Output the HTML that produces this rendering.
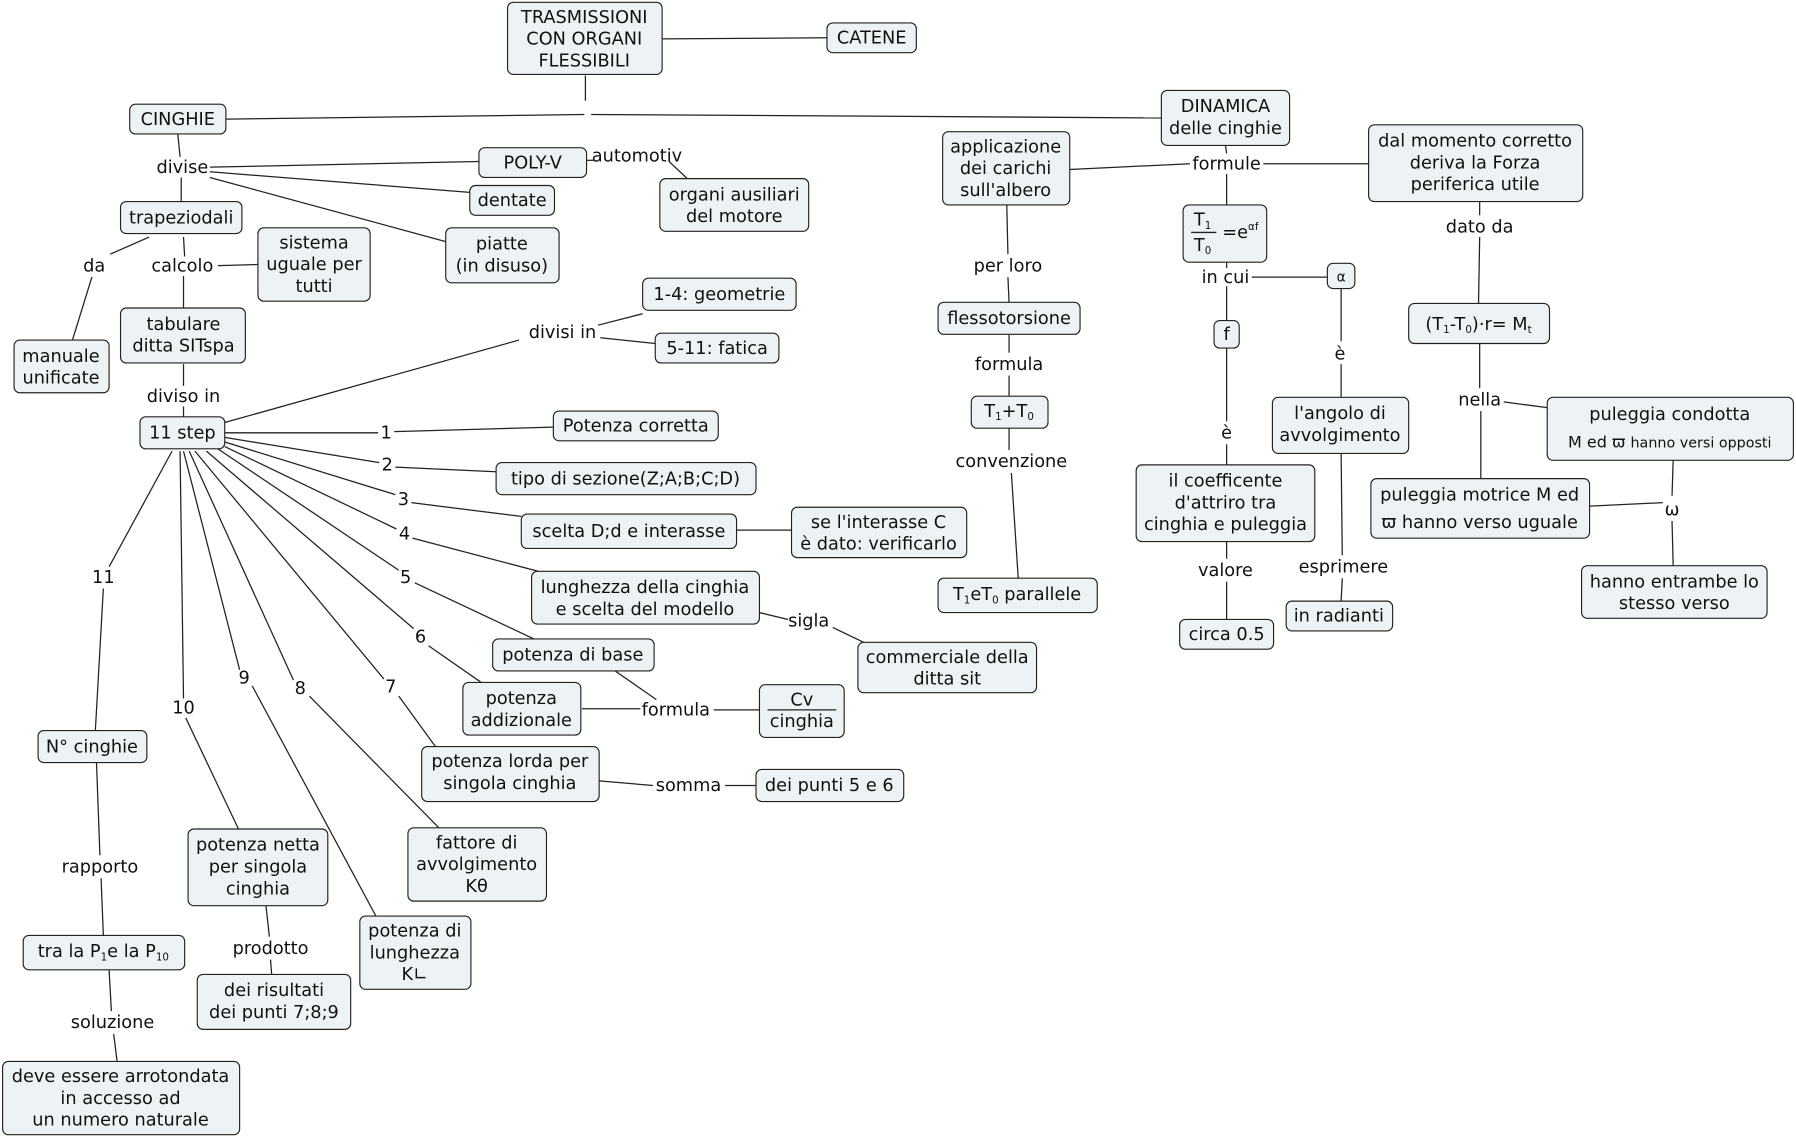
<!DOCTYPE html>
<html><head><meta charset="utf-8"><style>
html,body{margin:0;padding:0;background:#fff;}
svg{display:block}
text{font-family:"DejaVu Sans","Liberation Sans",sans-serif;font-size:15.5px;fill:#111;text-anchor:middle;}
rect{fill:#edf3f4;stroke:#222;stroke-width:1;}
line{stroke:#222;stroke-width:1.1;}
.s{font-size:9px}
</style></head><body>
<svg width="1796" height="1137" viewBox="0 0 1568 993" xmlns="http://www.w3.org/2000/svg">
<g>
<line x1="511" y1="66" x2="511" y2="88"/><line x1="578" y1="34" x2="722" y2="33"/>
<line x1="197" y1="104" x2="510" y2="100"/><line x1="516" y1="100" x2="1014" y2="103"/>
<line x1="155" y1="117" x2="157" y2="137"/><line x1="158" y1="155" x2="158" y2="176"/>
<line x1="183" y1="146" x2="418" y2="141"/><line x1="183" y1="150" x2="410" y2="168"/><line x1="183" y1="155" x2="389" y2="211"/>
<line x1="512" y1="140" x2="518" y2="140"/><line x1="584" y1="141" x2="600" y2="156"/>
<line x1="130" y1="207" x2="96" y2="222"/><line x1="80" y1="242" x2="63" y2="297"/>
<line x1="160" y1="207" x2="161" y2="224"/><line x1="190" y1="232" x2="225" y2="231"/><line x1="160" y1="241" x2="160" y2="269"/>
<line x1="160" y1="318" x2="160" y2="337"/><line x1="160" y1="355" x2="160" y2="364"/>
<line x1="196" y1="369" x2="453" y2="297"/><line x1="522" y1="284" x2="561" y2="274"/><line x1="524" y1="295" x2="572" y2="300"/>
<line x1="196" y1="378" x2="330" y2="378"/><line x1="344" y1="377" x2="483" y2="373"/>
<line x1="196" y1="382" x2="331" y2="404"/><line x1="345" y1="408" x2="433" y2="412"/>
<line x1="196" y1="386" x2="345" y2="432"/><line x1="359" y1="439" x2="455" y2="451"/>
<line x1="196" y1="390" x2="346" y2="462"/><line x1="360" y1="470" x2="470" y2="499"/>
<line x1="190" y1="392" x2="348" y2="498"/><line x1="362" y1="509" x2="466" y2="558"/>
<line x1="180" y1="394" x2="361" y2="549"/><line x1="374" y1="564" x2="420" y2="596"/>
<line x1="170" y1="394" x2="335" y2="593"/><line x1="348" y1="608" x2="380" y2="652"/>
<line x1="165" y1="394" x2="256" y2="594"/><line x1="270" y1="608" x2="383" y2="723"/>
<line x1="160" y1="394" x2="209" y2="585"/><line x1="220" y1="599" x2="328" y2="800"/>
<line x1="157" y1="394" x2="160" y2="610"/><line x1="162" y1="627" x2="208" y2="724"/>
<line x1="150" y1="394" x2="95" y2="495"/><line x1="90" y1="514" x2="83" y2="638"/>
<line x1="84" y1="666" x2="87" y2="747"/><line x1="88" y1="767" x2="90" y2="817"/>
<line x1="232" y1="791" x2="235" y2="818"/><line x1="236" y1="838" x2="237" y2="851"/>
<line x1="95" y1="847" x2="97" y2="883"/><line x1="99" y1="903" x2="102" y2="927"/>
<line x1="643" y1="463" x2="691" y2="463"/>
<line x1="663" y1="535" x2="688" y2="541"/><line x1="727" y1="548" x2="754" y2="561"/>
<line x1="537" y1="586" x2="573" y2="611"/><line x1="508" y1="619" x2="559" y2="619"/><line x1="623" y1="620" x2="663" y2="620"/>
<line x1="523" y1="682" x2="570" y2="686"/><line x1="633" y1="686" x2="660" y2="686"/>
<line x1="1070" y1="127" x2="1071" y2="134"/><line x1="934" y1="148" x2="1039" y2="143"/><line x1="1103" y1="143" x2="1195" y2="143"/><line x1="1071" y1="152" x2="1071" y2="179"/>
<line x1="879" y1="179" x2="880" y2="222"/><line x1="880" y1="242" x2="881" y2="264"/><line x1="881" y1="292" x2="881" y2="308"/><line x1="881" y1="328" x2="881" y2="346"/><line x1="881" y1="374" x2="881" y2="393"/><line x1="883" y1="413" x2="889" y2="505"/>
<line x1="1071" y1="229" x2="1071" y2="234"/><line x1="1093" y1="242" x2="1159" y2="242"/><line x1="1171" y1="252" x2="1171" y2="298"/><line x1="1171" y1="318" x2="1171" y2="347"/><line x1="1171" y1="396" x2="1172" y2="485"/><line x1="1172" y1="505" x2="1171" y2="525"/>
<line x1="1071" y1="250" x2="1071" y2="280"/><line x1="1071" y1="304" x2="1071" y2="368"/><line x1="1071" y1="388" x2="1071" y2="406"/><line x1="1071" y1="473" x2="1071" y2="488"/><line x1="1071" y1="508" x2="1071" y2="541"/>
<line x1="1292" y1="176" x2="1292" y2="188"/><line x1="1292" y1="207" x2="1291" y2="265"/><line x1="1292" y1="300" x2="1292" y2="339"/><line x1="1293" y1="359" x2="1293" y2="418"/><line x1="1313" y1="351" x2="1351" y2="356"/>
<line x1="1461" y1="402" x2="1460" y2="433"/><line x1="1388" y1="442" x2="1452" y2="439"/><line x1="1460" y1="455" x2="1461" y2="494"/>
</g>
<g>
<rect x="443" y="2" width="135" height="63" rx="5"/>
<text x="510" y="20">TRASMISSIONI</text><text x="510" y="39">CON ORGANI</text><text x="510" y="58">FLESSIBILI</text>
<rect x="722" y="20" width="78" height="26" rx="5"/><text x="761" y="38">CATENE</text>
<rect x="113" y="91" width="84" height="26" rx="5"/><text x="155" y="109">CINGHIE</text>
<rect x="1014" y="79" width="112" height="48" rx="5"/><text x="1070" y="98">DINAMICA</text><text x="1070" y="117">delle cinghie</text>
<rect x="418" y="129" width="94" height="26" rx="5"/><text x="465" y="147">POLY-V</text>
<rect x="410" y="162" width="74" height="26" rx="5"/><text x="447" y="180">dentate</text>
<rect x="576" y="156" width="130" height="46" rx="5"/><text x="641" y="175">organi ausiliari</text><text x="641" y="194">del motore</text>
<rect x="389" y="199" width="99" height="48" rx="5"/><text x="438" y="218">piatte</text><text x="438" y="237">(in disuso)</text>
<rect x="105" y="176" width="106" height="28" rx="5"/><text x="158" y="195">trapeziodali</text>
<rect x="225" y="199" width="98" height="64" rx="5"/><text x="274" y="217">sistema</text><text x="274" y="236">uguale per</text><text x="274" y="255">tutti</text>
<rect x="12" y="297" width="83" height="46" rx="5"/><text x="53" y="316">manuale</text><text x="53" y="335">unificate</text>
<rect x="105" y="269" width="109" height="48" rx="5"/><text x="160" y="288">tabulare</text><text x="160" y="307">ditta SITspa</text>
<rect x="561" y="243" width="134" height="28" rx="5"/><text x="628" y="262">1-4: geometrie</text>
<rect x="572" y="291" width="108" height="26" rx="5"/><text x="626" y="309">5-11: fatica</text>
<rect x="122" y="364" width="74" height="28" rx="5"/><text x="159" y="383">11 step</text>
<rect x="483" y="359" width="144" height="26" rx="5"/><text x="555" y="377">Potenza corretta</text>
<rect x="433" y="404" width="227" height="28" rx="5"/><text x="546" y="423">tipo di sezione(Z;A;B;C;D)</text>
<rect x="455" y="449" width="188" height="30" rx="5"/><text x="549" y="469">scelta D;d e interasse</text>
<rect x="691" y="443" width="153" height="44" rx="5"/><text x="767" y="461">se l'interasse C</text><text x="767" y="480">è dato: verificarlo</text>
<rect x="464" y="499" width="199" height="46" rx="5"/><text x="563" y="518">lunghezza della cinghia</text><text x="563" y="537">e scelta del modello</text>
<rect x="430" y="558" width="141" height="28" rx="5"/><text x="500" y="577">potenza di base</text>
<rect x="404" y="596" width="103" height="46" rx="5"/><text x="455" y="615">potenza</text><text x="455" y="634">addizionale</text>
<rect x="663" y="598" width="74" height="46" rx="5"/><text x="700" y="616">Cv</text><line x1="670" y1="620" x2="730" y2="620"/><text x="700" y="635">cinghia</text>
<rect x="749" y="561" width="156" height="44" rx="5"/><text x="827" y="579">commerciale della</text><text x="827" y="598">ditta sit</text>
<rect x="368" y="652" width="155" height="48" rx="5"/><text x="445" y="670">potenza lorda per</text><text x="445" y="689">singola cinghia</text>
<rect x="660" y="672" width="129" height="28" rx="5"/><text x="724" y="691">dei punti 5 e 6</text>
<rect x="33" y="638" width="95" height="28" rx="5"/><text x="80" y="657">N° cinghie</text>
<rect x="164" y="724" width="122" height="67" rx="5"/><text x="225" y="743">potenza netta</text><text x="225" y="762">per singola</text><text x="225" y="781">cinghia</text>
<rect x="356" y="723" width="121" height="64" rx="5"/><text x="416" y="741">fattore di</text><text x="416" y="760">avvolgimento</text><text x="416" y="779">Kθ</text>
<rect x="314" y="800" width="97" height="64" rx="5"/><text x="362" y="818">potenza di</text><text x="362" y="837">lunghezza</text><text x="362" y="856">K∟</text>
<rect x="20" y="817" width="141" height="30" rx="5"/><text x="90" y="836">tra la P<tspan class="s" dy="3">1</tspan><tspan dy="-3">e la P</tspan><tspan class="s" dy="3">10</tspan></text>
<rect x="172" y="851" width="134" height="48" rx="5"/><text x="239" y="870">dei risultati</text><text x="239" y="889">dei punti 7;8;9</text>
<rect x="2" y="927" width="207" height="64" rx="5"/><text x="105" y="945">deve essere arrotondata</text><text x="105" y="964">in accesso ad</text><text x="105" y="983">un numero naturale</text>
<rect x="823" y="115" width="111" height="64" rx="5"/><text x="878" y="133">applicazione</text><text x="878" y="152">dei carichi</text><text x="878" y="171">sull'albero</text>
<rect x="1195" y="109" width="187" height="67" rx="5"/><text x="1288" y="128">dal momento corretto</text><text x="1288" y="147">deriva la Forza</text><text x="1288" y="166">periferica utile</text>
<rect x="1033" y="179" width="73" height="50" rx="5"/><text x="1050" y="197">T<tspan class="s" dy="3">1</tspan></text><line x1="1040" y1="203" x2="1062" y2="203"/><text x="1050" y="219">T<tspan class="s" dy="3">0</tspan></text><text x="1083" y="208">=e<tspan class="s" dy="-7">αf</tspan></text>
<rect x="1159" y="230" width="24" height="22" rx="5"/><text x="1171" y="246" style="font-size:12px">α</text>
<rect x="1060" y="280" width="22" height="24" rx="5"/><text x="1071" y="297">f</text>
<rect x="819" y="264" width="124" height="28" rx="5"/><text x="881" y="283">flessotorsione</text>
<rect x="848" y="346" width="67" height="28" rx="5"/><text x="881" y="364">T<tspan class="s" dy="3">1</tspan><tspan dy="-3">+T</tspan><tspan class="s" dy="3">0</tspan></text>
<rect x="819" y="505" width="139" height="30" rx="5"/><text x="888" y="524">T<tspan class="s" dy="3">1</tspan><tspan dy="-3">eT</tspan><tspan class="s" dy="3">0</tspan><tspan dy="-3"> parallele</tspan></text>
<rect x="992" y="406" width="156" height="67" rx="5"/><text x="1070" y="425">il coefficente</text><text x="1070" y="444">d'attriro tra</text><text x="1070" y="463">cinghia e puleggia</text>
<rect x="1111" y="347" width="119" height="49" rx="5"/><text x="1170" y="366">l'angolo di</text><text x="1170" y="385">avvolgimento</text>
<rect x="1030" y="541" width="82" height="26" rx="5"/><text x="1071" y="559">circa 0.5</text>
<rect x="1123" y="525" width="93" height="26" rx="5"/><text x="1169" y="543">in radianti</text>
<rect x="1230" y="265" width="123" height="35" rx="5"/><text x="1291" y="288">(T<tspan class="s" dy="3">1</tspan><tspan dy="-3">-T</tspan><tspan class="s" dy="3">0</tspan><tspan dy="-3">)·r= M</tspan><tspan class="s" dy="3">t</tspan></text>
<rect x="1351" y="347" width="215" height="55" rx="5"/><text x="1458" y="367">puleggia condotta</text><text x="1458" y="391" style="font-size:14px">M ed ϖ <tspan style="font-size:12.5px">hanno versi opposti</tspan></text>
<rect x="1197" y="418" width="191" height="52" rx="5"/><text x="1292" y="437">puleggia motrice M ed</text><text x="1292" y="461">ϖ hanno verso uguale</text>
<rect x="1381" y="494" width="162" height="46" rx="5"/><text x="1462" y="513">hanno entrambe lo</text><text x="1462" y="532">stesso verso</text>
</g>
<g>
<text x="159" y="151">divise</text><text x="82" y="237">da</text><text x="159" y="237">calcolo</text><text x="160" y="351">diviso in</text><text x="491" y="295">divisi in</text><text x="556" y="141">automotiv</text>
<text x="337" y="383">1</text><text x="338" y="411">2</text><text x="352" y="441">3</text><text x="353" y="471">4</text><text x="354" y="509">5</text><text x="367" y="561">6</text><text x="341" y="605">7</text><text x="262" y="606">8</text><text x="213" y="597">9</text><text x="160" y="623">10</text><text x="90" y="509">11</text>
<text x="706" y="547">sigla</text><text x="590" y="625">formula</text><text x="601" y="691">somma</text><text x="87" y="762">rapporto</text><text x="236" y="833">prodotto</text><text x="98" y="898">soluzione</text>
<text x="1071" y="148">formule</text><text x="880" y="237">per loro</text><text x="881" y="323">formula</text><text x="883" y="408">convenzione</text><text x="1070" y="247">in cui</text><text x="1170" y="314">è</text><text x="1071" y="383">è</text><text x="1070" y="503">valore</text><text x="1173" y="500">esprimere</text><text x="1292" y="203">dato da</text><text x="1292" y="354">nella</text><text x="1460" y="450">ω</text>
</g>
</svg>
</body></html>
